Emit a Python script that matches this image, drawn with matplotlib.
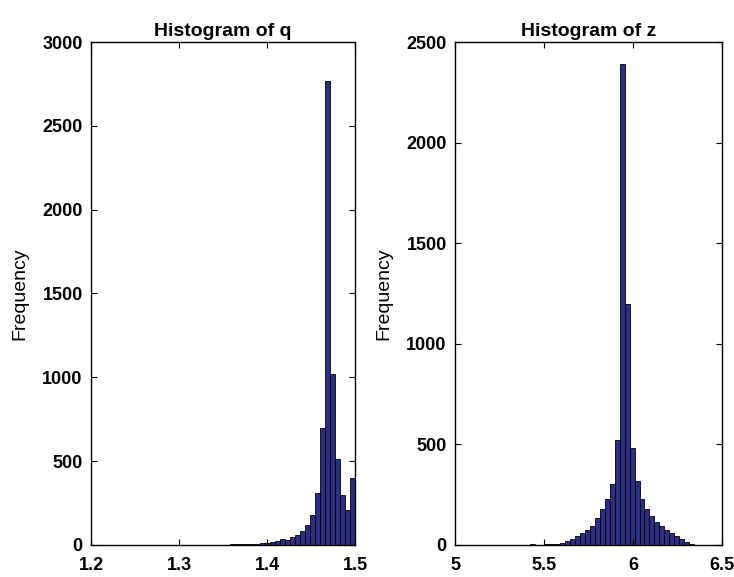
import matplotlib
matplotlib.use('Agg')
import matplotlib.pyplot as plt
import numpy as np

plt.rcParams['font.family'] = ['Liberation Sans', 'DejaVu Sans']

# Histogram of q: counts per bin, bins end at q_right, left to right
q_width = 0.0057
q_right = 1.5
q_counts = [2, 2, 3, 3, 4, 5, 6, 8, 10, 12, 18, 25, 35, 28, 45, 60, 85, 120,
            180, 310, 700, 2770, 1020, 510, 300, 210, 400]

# Histogram of z: counts per bin, first bin starts at z_left
z_width = 0.028
z_left = 5.42
z_counts = [3, 2, 2, 3, 4, 6, 10, 18, 30, 45, 60, 75, 95, 135, 180, 230, 305,
            520, 2390, 1200, 480, 320, 230, 180, 145, 115, 95, 75, 60, 45,
            30, 15, 6, 2]

bar_color = '#2d2d82'


def draw_hist(ax, edges, width, counts, title, xlim, xticks, ylim, yticks):
    ax.bar(edges, counts, width=width, align='edge',
           color=bar_color, edgecolor='black', linewidth=0.6)
    ax.set_xlim(*xlim)
    ax.set_ylim(*ylim)
    ax.set_xticks(xticks)
    ax.set_yticks(yticks)
    ax.set_xticklabels([f'{t:g}' for t in xticks], fontweight='bold', fontsize=13)
    ax.set_yticklabels([f'{t:g}' for t in yticks], fontweight='bold', fontsize=13)
    ax.tick_params(direction='in', top=True, right=True, length=4, width=0.8)
    ax.tick_params(axis='x', pad=9)
    ax.tick_params(axis='y', pad=6)
    ax.set_title(title, fontweight='bold', fontsize=14, pad=4)
    ax.set_ylabel('Frequency', fontsize=14, labelpad=10)
    for s in ax.spines.values():
        s.set_linewidth(1.0)


fig = plt.figure(figsize=(7.34, 5.77), dpi=100)
ax1 = fig.add_axes([0.124, 0.0555, 0.3597, 0.8717])
ax2 = fig.add_axes([0.620, 0.0555, 0.3638, 0.8717])

q_edges = q_right - q_width * np.arange(len(q_counts), 0, -1)
draw_hist(ax1, q_edges, q_width, q_counts, 'Histogram of q', (1.2, 1.5),
          [1.2, 1.3, 1.4, 1.5], (0, 3000), [0, 500, 1000, 1500, 2000, 2500, 3000])

z_edges = z_left + z_width * np.arange(len(z_counts))
draw_hist(ax2, z_edges, z_width, z_counts, 'Histogram of z', (5, 6.5),
          [5, 5.5, 6, 6.5], (0, 2500), [0, 500, 1000, 1500, 2000, 2500])

plt.savefig('out.png')
